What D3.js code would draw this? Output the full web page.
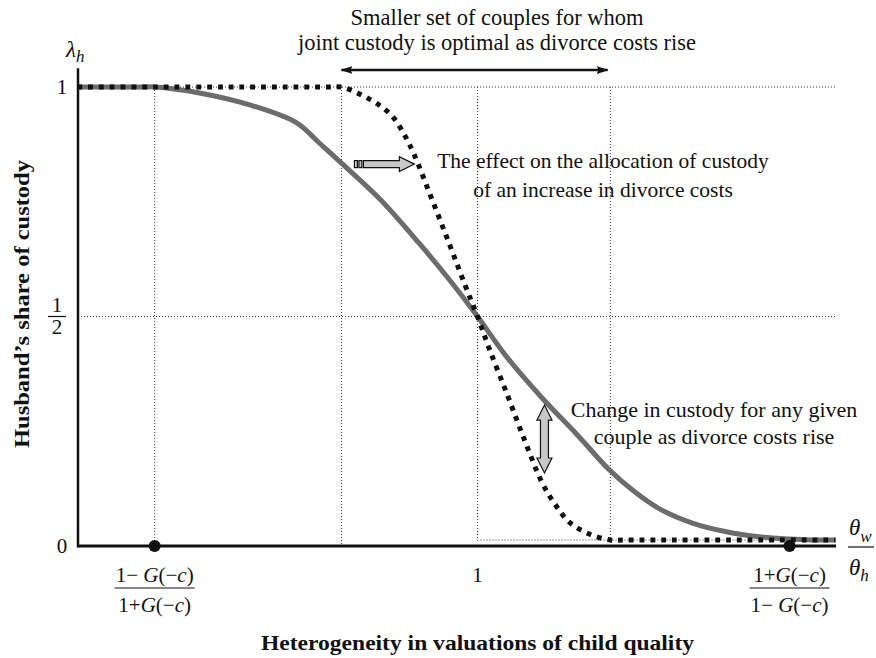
<!DOCTYPE html>
<html><head><meta charset="utf-8">
<script src="https://cdn.jsdelivr.net/npm/d3@7"></script>
<style>
body{margin:0;background:#fff}
svg{display:block}
text{font-family:"Liberation Serif","Times New Roman",serif;fill:#111}
</style>
</head><body>
<svg id="c" width="876" height="658"></svg>
<script>
// ---- data (x: theta_w/theta_h, y: husband's share of custody) ----
const solidX = [0.259,0.330,0.380,0.402,0.485,0.578,0.665,0.707,0.748,0.819,0.893,0.948,1.000,1.054,1.120,1.185,1.244,1.291,1.337,1.398,1.461,1.522,1.578,1.620,1.663];
const solidY = [1.000,1.000,1.000,1.000,0.987,0.961,0.922,0.878,0.834,0.756,0.658,0.580,0.500,0.412,0.322,0.242,0.166,0.118,0.081,0.050,0.031,0.020,0.015,0.013,0.013];
const dottedX = [0.259,0.400,0.550,0.680,0.725,0.748,0.781,0.815,0.843,0.865,0.883,0.911,0.943,0.976,1.000,1.022,1.054,1.087,1.120,1.143,1.170,1.207,1.246,1.270,1.350,1.450,1.550,1.663];
const dottedY = [1.000,1.000,1.000,1.000,1.000,1.000,0.985,0.963,0.935,0.895,0.852,0.769,0.673,0.571,0.500,0.429,0.333,0.231,0.137,0.092,0.052,0.026,0.013,0.013,0.013,0.013,0.013,0.013];
const yTickValues = [0, 0.5, 1];
const yTickLabels = ["0", "1/2", "1"];
const markerX = [0.402, 1.578];          // (1-G)/(1+G) and (1+G)/(1-G)
const guideX = [0.402, 0.748, 1.000, 1.246];
const guideBottom = [0, 0, 0.013, 0.013];
const boxBottom = 0.013;
const topArrowX = [0.748, 1.241];
const topArrowY = 1.037;
const effectArrow = {x0: 0.772, x1: 0.883, y: 0.832};
const changeArrow = {x: 1.124, y0: 0.307, y1: 0.159};

// ---- scales ----
const x = d3.scaleLinear().domain([0.26, 1.664]).range([78, 836]);
const y = d3.scaleLinear().domain([0, 1]).range([546, 87]);
const svg = d3.select("#c");

// ---- guide (dotted) lines ----
const guides = svg.append("g").attr("stroke","#333").attr("stroke-width",1).attr("stroke-dasharray","1,2").attr("fill","none");
[1, 0.5].forEach(v => guides.append("line")
  .attr("x1", x(0.26)).attr("x2", x(1.664)).attr("y1", y(v)).attr("y2", y(v)));
guideX.forEach((v,i) => guides.append("line")
  .attr("x1", x(v)).attr("x2", x(v)).attr("y1", y(1)).attr("y2", y(guideBottom[i])));
guides.append("line").attr("x1", x(guideX[2])).attr("x2", x(1.664))
  .attr("y1", y(boxBottom)).attr("y2", y(boxBottom));

// ---- curves ----
const line = d3.line().x(d => x(d[0])).y(d => y(d[1])).curve(d3.curveCatmullRom.alpha(0.5));
svg.append("path").datum(solidX.map((v,i)=>[v, solidY[i]]))
  .attr("d", line).attr("fill","none").attr("stroke","#6c6c6c").attr("stroke-width",5);
svg.append("path").datum(dottedX.map((v,i)=>[v, dottedY[i]]))
  .attr("d", line).attr("fill","none").attr("stroke","#111").attr("stroke-width",5)
  .attr("stroke-dasharray","4.8,6");

// ---- axes ----
svg.append("line").attr("x1", x(0.26)).attr("x2", x(0.26)).attr("y1", y(1.041)).attr("y2", y(0)+1.5)
  .attr("stroke","#111").attr("stroke-width",2.5);
svg.append("line").attr("x1", x(0.26)).attr("x2", x(1.664)).attr("y1", y(0)).attr("y2", y(0))
  .attr("stroke","#111").attr("stroke-width",3);

// markers on x axis
svg.selectAll("circle.mk").data(markerX).join("circle").attr("class","mk")
  .attr("cx", d => x(d)).attr("cy", y(0)).attr("r", 6).attr("fill","#111");

// ---- y tick labels ----
yTickValues.forEach((v,i) => {
  const lab = yTickLabels[i];
  if (lab.includes("/")) {
    const [n, d] = lab.split("/");
    const cx = 57, cy = y(v);
    svg.append("text").attr("x", cx).attr("y", cy - 5).attr("text-anchor","middle").attr("font-size",21).text(n);
    svg.append("line").attr("x1", cx-9).attr("x2", cx+9).attr("y1", cy).attr("y2", cy).attr("stroke","#111").attr("stroke-width",1.2);
    svg.append("text").attr("x", cx).attr("y", cy + 17).attr("text-anchor","middle").attr("font-size",21).text(d);
  } else {
    svg.append("text").attr("x", 62).attr("y", y(v) + 7).attr("text-anchor","middle").attr("font-size",21).text(lab);
  }
});

// lambda_h
const lam = svg.append("text").attr("x", 66).attr("y", 57).attr("font-size",23).attr("font-style","italic");
lam.append("tspan").text("λ");
lam.append("tspan").attr("font-size",17).attr("dy",5).text("h");

// ---- x labels ----
function mathText(g, cx, yb, parts, size){
  const t = g.append("text").attr("x", cx).attr("y", yb).attr("text-anchor","middle").attr("font-size", size);
  parts.forEach(p => t.append("tspan").attr("font-style", p[1] ? "italic" : "normal").text(p[0]));
  return t;
}
function frac(cx, num, den, half){
  mathText(svg, cx, 582, num, 21);
  svg.append("line").attr("x1", cx-half).attr("x2", cx+half).attr("y1", 588).attr("y2", 588).attr("stroke","#111").attr("stroke-width",1.2);
  mathText(svg, cx, 612, den, 21);
}
const minusG = [["1− ",0],["G",1],["(−",0],["c",1],[")",0]];
const plusG  = [["1+",0],["G",1],["(−",0],["c",1],[")",0]];
frac(x(markerX[0]), minusG, plusG, 40);
frac(x(markerX[1]), plusG, minusG, 40);
svg.append("text").attr("x", x(1)).attr("y", 582).attr("text-anchor","middle").attr("font-size",21).text("1");

// theta_w / theta_h
const tw = svg.append("text").attr("x", 849).attr("y", 535).attr("font-size",23).attr("font-style","italic");
tw.append("tspan").text("θ"); tw.append("tspan").attr("font-size",17).attr("dy",7).text("w");
svg.append("line").attr("x1",848).attr("x2",874).attr("y1",547).attr("y2",547).attr("stroke","#111").attr("stroke-width",1.2);
const th = svg.append("text").attr("x", 849).attr("y", 575).attr("font-size",23).attr("font-style","italic");
th.append("tspan").text("θ"); th.append("tspan").attr("font-size",17).attr("dy",6).text("h");

// axis titles
svg.append("text").attr("x", x(1)).attr("y", 650).attr("text-anchor","middle")
  .attr("font-size",21).attr("font-weight","bold")
  .attr("textLength",433).attr("lengthAdjust","spacingAndGlyphs")
  .text("Heterogeneity in valuations of child quality");
svg.append("text").attr("transform","translate(29,304) rotate(-90)").attr("text-anchor","middle")
  .attr("font-size",21).attr("font-weight","bold")
  .attr("textLength",288).attr("lengthAdjust","spacingAndGlyphs")
  .text("Husband’s share of custody");

// ---- top double arrow ----
const defs = svg.append("defs");
defs.append("marker").attr("id","ah").attr("viewBox","0 0 12 8").attr("refX",11).attr("refY",4)
  .attr("markerWidth",12).attr("markerHeight",8).attr("markerUnits","userSpaceOnUse").attr("orient","auto-start-reverse")
  .append("path").attr("d","M0,0 L12,4 L0,8 L2,4 Z").attr("fill","#111");
svg.append("line").attr("x1", x(topArrowX[0])).attr("x2", x(topArrowX[1])).attr("y1", y(topArrowY)).attr("y2", y(topArrowY))
  .attr("stroke","#111").attr("stroke-width",2.5).attr("marker-start","url(#ah)").attr("marker-end","url(#ah)");

// ---- block arrows ----
{
  const x0 = x(effectArrow.x0), x1 = x(effectArrow.x1), cy = y(effectArrow.y);
  const hs = 3.5, hh = 7.5, hl = 15;
  svg.append("path").attr("d",
    `M${x0+9},${cy-hs} L${x1-hl},${cy-hs} L${x1-hl},${cy-hh} L${x1},${cy} L${x1-hl},${cy+hh} L${x1-hl},${cy+hs} L${x0+9},${cy+hs} Z`)
    .attr("fill","#c8c8c8").attr("stroke","#111").attr("stroke-width",1.2);
  svg.append("rect").attr("x", x0).attr("y", cy-hs).attr("width",3).attr("height",2*hs).attr("fill","#c8c8c8").attr("stroke","#111").attr("stroke-width",1.2);
  svg.append("rect").attr("x", x0+4.5).attr("y", cy-hs).attr("width",3).attr("height",2*hs).attr("fill","#c8c8c8").attr("stroke","#111").attr("stroke-width",1.2);
}
{
  const cx = x(changeArrow.x), y0 = y(changeArrow.y0), y1 = y(changeArrow.y1);
  const hs = 4, hh = 7.5, hl = 15;
  svg.append("path").attr("d",
    `M${cx},${y0} L${cx+hh},${y0+hl} L${cx+hs},${y0+hl} L${cx+hs},${y1-hl} L${cx+hh},${y1-hl} L${cx},${y1} L${cx-hh},${y1-hl} L${cx-hs},${y1-hl} L${cx-hs},${y0+hl} L${cx-hh},${y0+hl} Z`)
    .attr("fill","#c8c8c8").attr("stroke","#111").attr("stroke-width",1.2);
}

// ---- annotations ----
function multi(cx, yb, lines, size, gap){
  lines.forEach((s,i) => svg.append("text").attr("x", cx).attr("y", yb + i*gap).attr("text-anchor","middle").attr("font-size", size).text(s));
}
multi(497, 25, ["Smaller set of couples for whom", "joint custody is optimal as divorce costs rise"], 22.5, 25);
multi(603, 168, ["The effect on the allocation of custody", "of an increase in divorce costs"], 21.5, 29);
multi(714, 417, ["Change in custody for any given", "couple as divorce costs rise"], 22, 27);
</script>
</body></html>
